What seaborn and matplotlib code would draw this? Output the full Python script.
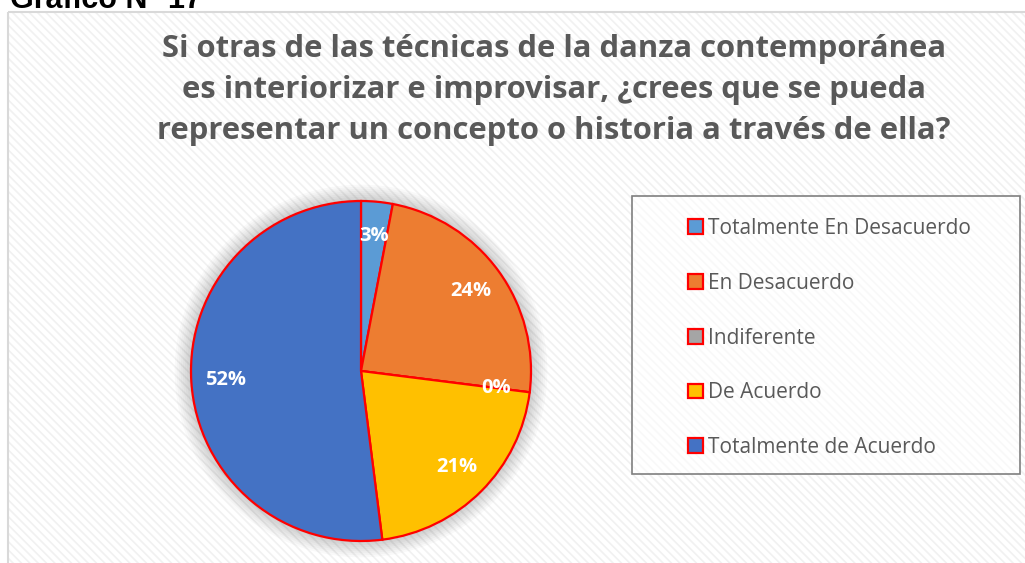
import seaborn as sns
import matplotlib.pyplot as plt
from matplotlib.patches import Rectangle, Circle

# datos de la encuesta (gráfico 17)
categorias = ['Totalmente En Desacuerdo', 'En Desacuerdo', 'Indiferente',
              'De Acuerdo', 'Totalmente de Acuerdo']
porcentajes = [3, 24, 0, 21, 52]
colores = ['#5b9bd5', '#ed7d31', '#a5a5a5', '#ffc000', '#4472c4']

titulo = ('Si otras de las técnicas de la danza contemporánea\n'
          'es interiorizar e improvisar, ¿crees que se pueda\n'
          'representar un concepto o historia a través de ella?')

sns.set_theme(style='white')
plt.rcParams['font.family'] = ['Open Sans', 'DejaVu Sans']
plt.rcParams['hatch.linewidth'] = 1.2

W, H = 1025, 563
fig = plt.figure(figsize=(W / 100, H / 100), dpi=100)
fig.patch.set_facecolor('white')

# fondo del área del gráfico con rayado diagonal
bg = fig.add_axes([0, 0, 1, 1])
bg.set_xlim(0, W)
bg.set_ylim(H, 0)
bg.axis('off')
bg.add_patch(Rectangle((8, 12), W, H, facecolor='white', edgecolor='#f1f1f1',
                       hatch='\\\\\\\\', lw=0, zorder=0))
bg.add_patch(Rectangle((8, 12), W, H, facecolor='none', edgecolor='#d9d9d9',
                       lw=1.5, zorder=1))
# marco de la leyenda
bg.add_patch(Rectangle((632, 196), 388, 278, facecolor='white', alpha=0.55,
                       edgecolor='none', zorder=1))
bg.add_patch(Rectangle((632, 196), 388, 278, facecolor='none',
                       edgecolor='#7f7f7f', lw=1.2, zorder=2))

fig.text(10 / W, 1 - 8 / H, 'Gráfico N° 17', fontsize=22, fontweight='bold',
         color='black', va='baseline', ha='left', family=['Liberation Sans'])

fig.text(554 / W, 1 - 90 / H, titulo, fontsize=22.3, fontweight='bold',
         color='#595959', ha='center', va='center', linespacing=1.48)

# pastel
cx, cy, r = 361, 371, 170
lim = 1.1
side = 2 * r * lim
ax = fig.add_axes([(cx - side / 2) / W, (H - cy - side / 2) / H, side / W, side / H])

# sombra suave
for k in range(8):
    ax.add_patch(Circle((0, 0), 1.0 + 0.012 * (k + 1), color='#000000',
                        alpha=0.022, lw=0, zorder=0))

wedges, textos, autotextos = ax.pie(
    porcentajes, colors=colores, startangle=90, counterclock=False,
    autopct='%1.0f%%', pctdistance=0.8,
    wedgeprops=dict(edgecolor='red', linewidth=1.6),
    textprops=dict(color='white', fontsize=14.5, fontweight='bold'),
    normalize=True)
for w in wedges:
    w.set_zorder(2)
for t in autotextos:
    t.set_zorder(3)
ax.set_xlim(-lim, lim)
ax.set_ylim(-lim, lim)
ax.set_aspect('equal')
ax.axis('off')

leg = fig.legend(wedges, categorias, loc='upper left',
                 bbox_to_anchor=(688 / W, 1 - 218 / H),
                 frameon=False, fontsize=15,
                 labelspacing=1.62, handlelength=0.7, handleheight=0.7,
                 handletextpad=0.25, borderpad=0, borderaxespad=0)
for t in leg.get_texts():
    t.set_color('#595959')

fig.savefig('out.png', dpi=100)
